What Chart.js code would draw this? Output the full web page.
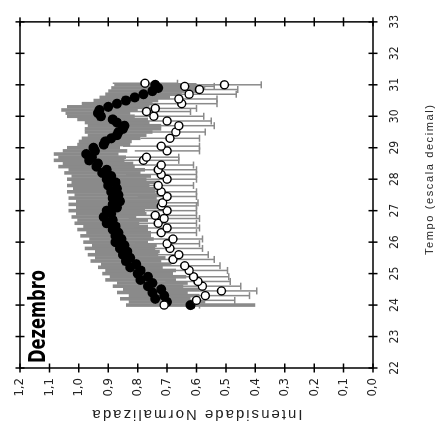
<!DOCTYPE html>
<html>
<head>
<meta charset="utf-8">
<script src="https://cdn.jsdelivr.net/npm/chart.js@4"></script>
<style>
  html, body { margin: 0; padding: 0; background: #fff; overflow: hidden; }
  /* chart is drawn upright, then turned a quarter turn to the left */
  #wrap {
    position: absolute; left: 0; top: 0;
    width: 428px; height: 444px;
    transform-origin: 0 0;
    transform: translateY(428px) rotate(-90deg);
  }
</style>
</head>
<body>
<div id="wrap"><canvas id="chart" width="428" height="444"></canvas></div>
<script>
// Dezembro - black: mean, white: second series (both with SD)
var tempoTicks = [22, 23, 24, 25, 26, 27, 28, 29, 30, 31, 32, 33];
var intensTicks = [0, 0.1, 0.2, 0.3, 0.4, 0.5, 0.6, 0.7, 0.8, 0.9, 1.0, 1.1, 1.2];

var blackTempo = [24.0, 24.1, 24.2, 24.3, 24.4, 24.5, 24.6, 24.7, 24.8, 24.9,
  25.0, 25.1, 25.2, 25.3, 25.4, 25.5, 25.6, 25.7, 25.8, 25.9,
  26.0, 26.1, 26.2, 26.3, 26.4, 26.5, 26.6, 26.7, 26.8, 26.9,
  27.0, 27.1, 27.2, 27.3, 27.4, 27.5, 27.6, 27.7, 27.8, 27.9,
  28.0, 28.1, 28.2, 28.3, 28.4, 28.5, 28.6, 28.7, 28.8, 28.9,
  29.0, 29.1, 29.2, 29.3, 29.4, 29.5, 29.6, 29.7, 29.8, 29.9,
  30.0, 30.1, 30.2, 30.3, 30.4, 30.5, 30.6, 30.7, 30.8, 30.9, 31.0];
var blackValues = [0.62, 0.70, 0.74, 0.71, 0.75, 0.72, 0.765, 0.75, 0.79, 0.765,
  0.80, 0.79, 0.825, 0.805, 0.84, 0.825, 0.85, 0.835, 0.86, 0.845,
  0.875, 0.855, 0.875, 0.865, 0.885, 0.875, 0.905, 0.885, 0.915, 0.89,
  0.905, 0.87, 0.885, 0.86, 0.885, 0.865, 0.89, 0.87, 0.90, 0.875,
  0.905, 0.89, 0.92, 0.905, 0.94, 0.935, 0.965, 0.955, 0.975, 0.945,
  0.95, 0.915, 0.91, 0.89, 0.87, 0.865, 0.85, 0.845, 0.87, 0.885,
  0.925, 0.935, 0.93, 0.90, 0.87, 0.84, 0.81, 0.78, 0.75, 0.73, 0.74];
var blackSd = [0.22, 0.13, 0.12, 0.12, 0.12, 0.13, 0.12, 0.12, 0.12, 0.13,
  0.12, 0.12, 0.11, 0.12, 0.12, 0.12, 0.12, 0.11, 0.12, 0.11,
  0.11, 0.11, 0.12, 0.11, 0.12, 0.11, 0.11, 0.12, 0.11, 0.12,
  0.13, 0.14, 0.15, 0.15, 0.15, 0.15, 0.15, 0.15, 0.14, 0.15,
  0.135, 0.135, 0.13, 0.13, 0.13, 0.12, 0.12, 0.115, 0.11, 0.11,
  0.09, 0.09, 0.09, 0.10, 0.10, 0.115, 0.13, 0.125, 0.11, 0.12,
  0.115, 0.11, 0.13, 0.14, 0.12, 0.11, 0.12, 0.13, 0.15, 0.16, 0.14];

var whiteTempo = [24.0, 24.15, 24.3, 24.45, 24.6, 24.75, 24.9, 25.1, 25.25, 25.45,
  25.6, 25.8, 25.95, 26.1, 26.3, 26.45, 26.6, 26.75, 26.85, 27.0,
  27.15, 27.25, 27.45, 27.6, 27.8, 28.0, 28.15, 28.3, 28.45, 28.6,
  28.7, 28.9, 29.05, 29.3, 29.5, 29.7, 29.85, 30.0, 30.15, 30.25,
  30.4, 30.55, 30.7, 30.85, 30.95, 31.0, 31.05];
var whiteValues = [0.71, 0.60, 0.57, 0.515, 0.58, 0.595, 0.61, 0.625, 0.64, 0.68,
  0.66, 0.69, 0.70, 0.68, 0.72, 0.70, 0.73, 0.71, 0.74, 0.70,
  0.72, 0.715, 0.70, 0.72, 0.73, 0.70, 0.72, 0.73, 0.72, 0.78,
  0.77, 0.70, 0.72, 0.69, 0.67, 0.66, 0.70, 0.745, 0.77, 0.74,
  0.65, 0.66, 0.625, 0.59, 0.64, 0.505, 0.775];
var whiteSd = [0.12, 0.13, 0.15, 0.12, 0.13, 0.11, 0.12, 0.13, 0.12, 0.14,
  0.10, 0.11, 0.11, 0.10, 0.12, 0.11, 0.13, 0.12, 0.14, 0.10,
  0.12, 0.12, 0.10, 0.12, 0.12, 0.10, 0.12, 0.13, 0.11, 0.12,
  0.11, 0.11, 0.13, 0.10, 0.10, 0.12, 0.15, 0.17, 0.15, 0.14,
  0.12, 0.13, 0.16, 0.13, 0.10, 0.125, 0.11];

var GRAY = '#8a8a8a';
var NARROW = "'Liberation Sans Narrow', 'DejaVu Sans Condensed', 'Liberation Sans', Arial, sans-serif";
var SANS = "'Liberation Sans', Arial, sans-serif";

function pts(xs, ys) {
  return xs.map(function (x, i) { return { x: x, y: ys[i] }; });
}

// vertical SD bars, drawn under all the markers
var errorBars = {
  id: 'errorBars',
  beforeDatasetsDraw: function (chart) {
    var ctx = chart.ctx, xs = chart.scales.x, ys = chart.scales.y, a = chart.chartArea;
    ctx.save();
    ctx.beginPath();
    ctx.rect(a.left, a.top, a.right - a.left, a.bottom - a.top);
    ctx.clip();
    for (var d = chart.data.datasets.length - 1; d >= 0; d--) {
      var ds = chart.data.datasets[d];
      if (!ds.sd) continue;
      ctx.strokeStyle = GRAY;
      ctx.lineWidth = ds.barWidth;
      ds.data.forEach(function (p, i) {
        var px = xs.getPixelForValue(p.x);
        var hi = ys.getPixelForValue(p.y + ds.sd[i]);
        var lo = ys.getPixelForValue(p.y - ds.sd[i]);
        ctx.beginPath();
        ctx.moveTo(px, hi);
        ctx.lineTo(px, lo);
        if (ds.cap) {
          ctx.moveTo(px - ds.cap, lo);
          ctx.lineTo(px + ds.cap, lo);
        }
        ctx.stroke();
      });
    }
    ctx.restore();
  }
};

// boxed frame with ticks crossing every side, titles and the month label
var frame = {
  id: 'frame',
  afterDraw: function (chart) {
    var ctx = chart.ctx, a = chart.chartArea, xs = chart.scales.x, ys = chart.scales.y;
    ctx.save();
    ctx.strokeStyle = '#000';
    ctx.lineWidth = 1.5;
    ctx.strokeRect(a.left, a.top, a.right - a.left, a.bottom - a.top);
    ctx.beginPath();
    tempoTicks.forEach(function (t) {
      var px = xs.getPixelForValue(t);
      ctx.moveTo(px, a.bottom - 4.5); ctx.lineTo(px, a.bottom + 4.5);
      ctx.moveTo(px, a.top - 4.5); ctx.lineTo(px, a.top + 4.5);
    });
    intensTicks.forEach(function (v) {
      var py = ys.getPixelForValue(v);
      ctx.moveTo(a.left - 4.5, py); ctx.lineTo(a.left + 4.5, py);
      ctx.moveTo(a.right - 4.5, py); ctx.lineTo(a.right + 4.5, py);
    });
    ctx.stroke();

    ctx.fillStyle = '#222';
    ctx.textAlign = 'center';
    ctx.textBaseline = 'middle';

    // x title
    spaced(ctx, 'Tempo (escala decimal)', '11px ' + SANS, 150, 248, 430, 0);
    // y title
    spaced(ctx, 'Intensidade Normalizada', '15px ' + SANS, 210, 14, (a.top + a.bottom) / 2 + 1, -Math.PI / 2);

    // month label, squeezed to a narrow face
    ctx.fillStyle = '#000';
    ctx.font = 'bold 23px ' + NARROW;
    ctx.textAlign = 'left';
    ctx.textBaseline = 'alphabetic';
    var w = ctx.measureText('Dezembro').width;
    ctx.save();
    ctx.translate(65, 45);
    ctx.scale(93 / w, 1);
    ctx.fillText('Dezembro', 0, 0);
    ctx.restore();
    ctx.restore();
  }
};

function spaced(ctx, text, font, width, cx, cy, rot) {
  ctx.save();
  ctx.font = font;
  ctx.letterSpacing = '0px';
  var natural = ctx.measureText(text).width;
  var gap = (width - natural) / (text.length - 1);
  ctx.letterSpacing = gap + 'px';
  ctx.translate(cx, cy);
  ctx.rotate(rot);
  ctx.textAlign = 'left';
  ctx.fillText(text, -width / 2, 0);
  ctx.restore();
}

new Chart(document.getElementById('chart'), {
  type: 'scatter',
  data: {
    datasets: [{
      label: 'white',
      data: pts(whiteTempo, whiteValues),
      sd: whiteSd,
      barWidth: 1.5,
      cap: 3.5,
      pointRadius: 4,
      pointBackgroundColor: '#fff',
      pointBorderColor: '#000',
      pointBorderWidth: 1.4
    }, {
      label: 'black',
      data: pts(blackTempo, blackValues),
      sd: blackSd,
      barWidth: 3.6,
      cap: 0,
      pointRadius: 5,
      pointBackgroundColor: '#000',
      pointBorderColor: '#000',
      pointBorderWidth: 0
    }]
  },
  options: {
    responsive: false,
    animation: false,
    events: [],
    layout: { padding: { top: 20, right: 16, left: 0, bottom: 0 } },
    plugins: { legend: { display: false }, tooltip: { enabled: false } },
    scales: {
      x: {
        type: 'linear',
        min: 22, max: 33,
        afterFit: function (s) { s.height = 71; },
        afterBuildTicks: function (s) { s.ticks = tempoTicks.map(function (v) { return { value: v }; }); },
        grid: { display: false, drawTicks: false },
        border: { display: false },
        ticks: {
          padding: 15,
          color: '#222',
          font: { family: NARROW, size: 12 },
          maxRotation: 0,
          callback: function (v) { return String(v); }
        }
      },
      y: {
        min: 0, max: 1.2,
        afterFit: function (s) { s.width = 60; },
        afterBuildTicks: function (s) { s.ticks = intensTicks.map(function (v) { return { value: v }; }); },
        grid: { display: false, drawTicks: false },
        border: { display: false },
        ticks: {
          padding: 10,
          color: '#222',
          font: { family: NARROW, size: 13 },
          callback: function (v) { return v.toFixed(1).replace('.', ','); }
        }
      }
    }
  },
  plugins: [errorBars, frame]
});
</script>
</body>
</html>
